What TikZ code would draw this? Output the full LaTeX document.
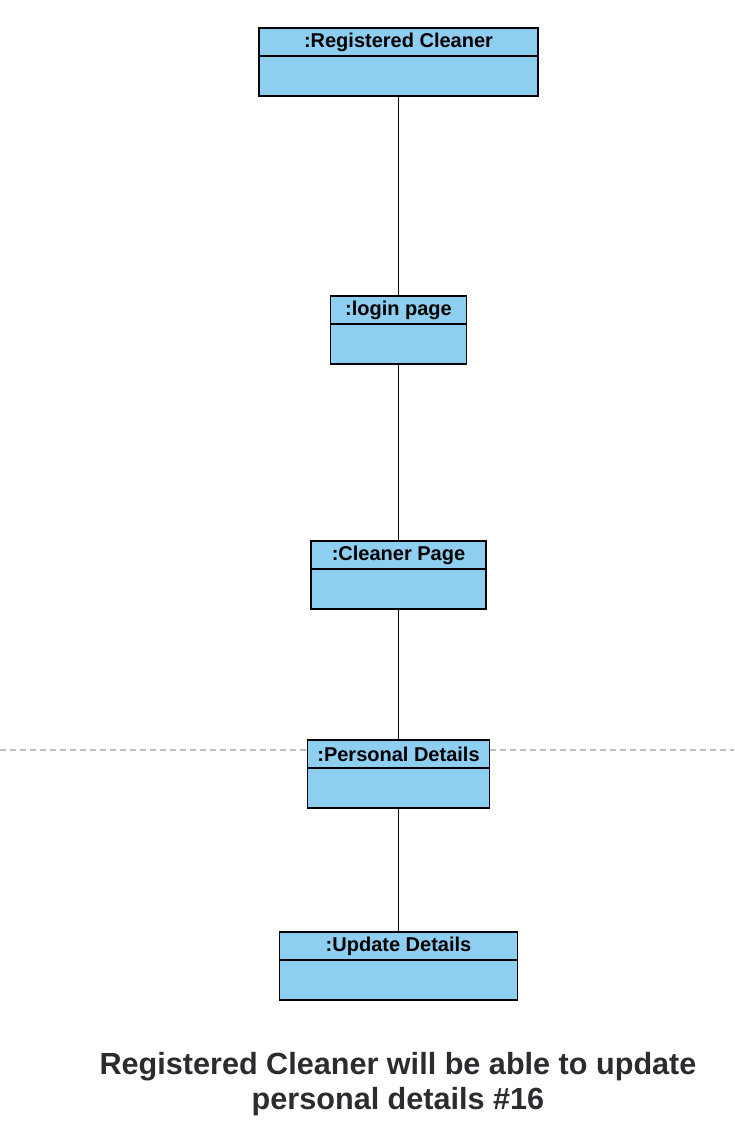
\documentclass[tikz,border=0pt]{standalone}
\usepackage{fontspec}
\setmainfont{Liberation Sans}
\definecolor{boxblue}{RGB}{142,206,240}
\definecolor{captiongray}{RGB}{43,43,48}
\definecolor{dashgray}{RGB}{190,190,190}
\begin{document}
\begin{tikzpicture}[x=1pt,y=-1pt,
  objbox/.style={draw=black,line width=1.8pt,fill=boxblue,minimum height=68pt,inner sep=0pt,anchor=center},
  objlabel/.style={font=\bfseries\fontsize{20}{22}\selectfont,inner sep=0pt},
  link/.style={line width=1.8pt,draw=black}]
\useasboundingbox (0,0) rectangle (734,1130);
\draw[dashgray,line width=1.5pt,dash pattern=on 6pt off 4pt] (0,750) -- (734,750);
\node[objbox,minimum width=279pt] (b1) at (398.5,62) {};
\node[objbox,minimum width=136pt] (b2) at (398.5,330) {};
\node[objbox,minimum width=175pt] (b3) at (398.5,575) {};
\node[objbox,minimum width=182pt] (b4) at (398.5,774) {};
\node[objbox,minimum width=238pt] (b5) at (398.5,966) {};
\foreach \b in {b1,b2,b3,b4,b5}{
  \draw[line width=1.8pt] ([yshift=-29pt]\b.north west) -- ([yshift=-29pt]\b.north east);
}
\node[objlabel] (l1) at ([yshift=-15pt]b1.north) {:Registered Cleaner};
\node[objlabel] (l2) at ([yshift=-15pt]b2.north) {:login page};
\node[objlabel] (l3) at ([yshift=-15pt]b3.north) {:Cleaner Page};
\node[objlabel] (l4) at ([yshift=-15pt]b4.north) {:Personal Details};
\node[objlabel] (l5) at ([yshift=-15pt]b5.north) {:Update Details};
\draw[link] (b1.south) -- (b2.north);
\draw[link] (b2.south) -- (b3.north);
\draw[link] (b3.south) -- (b4.north);
\draw[link] (b4.south) -- (b5.north);
\node[font=\bfseries\fontsize{30.6}{35}\selectfont,text=captiongray,align=center,inner sep=0pt] (cap) at (398,1084) {Registered Cleaner will be able to update\\personal details \#16};
\end{tikzpicture}
\end{document}
